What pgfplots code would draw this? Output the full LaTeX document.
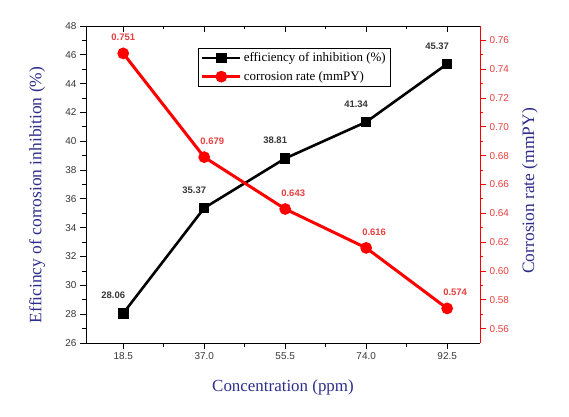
\documentclass[border=0pt]{standalone}
\usepackage{fontspec}
\setmainfont{Liberation Serif}
\newfontfamily\arialf{Liberation Sans}
\usepackage{pgfplots}
\pgfplotsset{compat=1.18}
\definecolor{axblue}{RGB}{45,45,140}
\definecolor{tickgray}{RGB}{55,55,55}
\definecolor{lblred}{RGB}{232,62,62}
\begin{document}
\begin{tikzpicture}
\useasboundingbox (-86bp,-74bp) rectangle (483bp,343bp);
\pgfplotsset{every axis/.append style={scale only axis, width=394bp, height=317bp,
  xmin=10, xmax=100, clip=false,
  /pgf/number format/assume math mode=true,
  axis line style={line width=0.9bp,-},
  major tick length=6bp, minor tick length=3.5bp,
  every tick/.style={line width=0.9bp},
  xtick={18.5,37,55.5,74,92.5}, minor x tick num=1},
  redlbl/.style={draw=none, forget plot, nodes near coords={\pgfmathprintnumber[fixed,fixed zerofill,precision=3]{\pgfplotspointmeta}},
  point meta=y,
  every node near coord/.append style={font=\arialf\bfseries\fontsize{9.5}{10}\selectfont, text=lblred, anchor=center, yshift=16bp}}}
% top axis with inward ticks
\begin{axis}[axis x line*=top, axis y line=none, xticklabels={}, tick align=inside, ymin=0, ymax=1]
\addplot[draw=none] coordinates {(10,0)};
\end{axis}
% main (left) axis
\begin{axis}[axis x line*=bottom, axis y line*=left, tick align=outside,
  ymin=26, ymax=48, ytick={26,28,...,48}, minor y tick num=1,
  xticklabel style={font=\arialf\fontsize{10}{11}\selectfont, text=tickgray,
     /pgf/number format/.cd, fixed, fixed zerofill, precision=1},
  yticklabel style={font=\arialf\fontsize{10}{11}\selectfont, text=tickgray},
  xlabel={Concentration (ppm)},
  ylabel={Efficincy of corrosion inhibition (\%)},
  xlabel style={at={(axis description cs:0.5,-0.139)}, anchor=center, font=\fontsize{17}{20}\selectfont, text=axblue},
  ylabel style={at={(axis description cs:-0.124,0.467)}, anchor=center, font=\fontsize{17.5}{20}\selectfont, text=axblue}]
\addplot[black, line width=2.6bp, mark=square*, mark size=4bp,
  nodes near coords={\pgfmathprintnumber[fixed,fixed zerofill,precision=2]{\pgfplotspointmeta}},
  point meta=y,
  every node near coord/.append style={font=\arialf\bfseries\fontsize{9.5}{10}\selectfont, text=tickgray, anchor=center, xshift=-10bp, yshift=18bp}]
coordinates {(18.5,28.06) (37,35.37) (55.5,38.81) (74,41.34) (92.5,45.37)};
\end{axis}
% right axis
\begin{axis}[axis x line=none, axis y line*=right, tick align=outside,
  ymin=0.55, ymax=0.77, ytick={0.56,0.58,0.60,0.62,0.64,0.66,0.68,0.70,0.72,0.74,0.76}, minor y tick num=1,
  axis line style={red}, y tick style={red},
  yticklabel style={font=\arialf\fontsize{10}{11}\selectfont, text=lblred,
     /pgf/number format/.cd, fixed, fixed zerofill, precision=2},
  ylabel={Corrosion rate (mmPY)},
  ylabel style={at={(axis description cs:1.127,0.48)}, anchor=center, font=\fontsize{17.5}{20}\selectfont, text=axblue},
  legend style={at={(axis description cs:0.284,0.931)}, anchor=north west, draw=black, line width=0.9bp,
     font=\fontsize{13}{14}\selectfont, inner sep=2.5bp, row sep=4bp, cells={anchor=west}},
  legend image code/.code={\draw[mark repeat=2,mark phase=2] plot coordinates {(0bp,0bp)(19bp,0bp)(38bp,0bp)};}]
\addlegendimage{black, line width=2.6bp, mark=square*, mark size=4bp}
\addlegendentry{efficiency of inhibition (\%)}
\addplot[red, line width=3bp, mark=*, mark size=4.3bp]
coordinates {(18.5,0.751) (37,0.679) (55.5,0.643) (74,0.616) (92.5,0.574)};
\addlegendentry{corrosion rate (mmPY)}
\addplot[redlbl] coordinates {(18.5,0.751)};
\addplot[redlbl, every node near coord/.append style={xshift=8bp}]
coordinates {(37,0.679) (55.5,0.643) (74,0.616) (92.5,0.574)};
\end{axis}
\end{tikzpicture}
\end{document}
